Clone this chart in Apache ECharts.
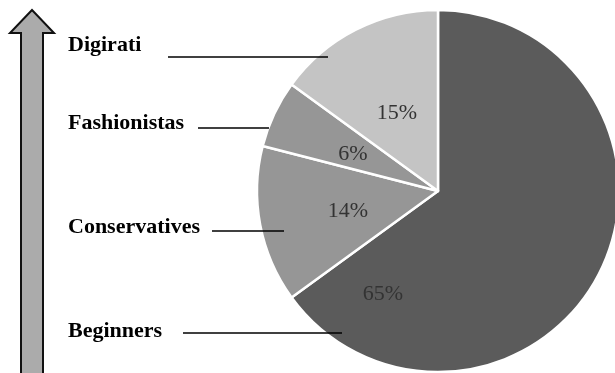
<!DOCTYPE html>
<html>
<head>
<meta charset="utf-8">
<script src="https://cdn.jsdelivr.net/npm/echarts@6/dist/echarts.min.js"></script>
<style>
  html, body { margin: 0; padding: 0; background: #fff; }
  #chart { width: 615px; height: 373px; }
</style>
</head>
<body>
<div id="chart"></div>
<script>
// Segments, clockwise from 12 o'clock
const segments = ['Beginners', 'Conservatives', 'Fashionistas', 'Digirati'];
const shares = [65, 14, 6, 15];
const sliceColors = ['#5b5b5b', '#969696', '#969696', '#c4c4c4'];

// Where each percentage sits (offset from the pie centre)
const pctOffsets = [[-55, 103], [-90, 20], [-85, -37], [-41, -78]];
// Side captions (vertical centre) and their leader lines [x1, x2, y]
const captionY = [331, 227, 123, 45];
const leaderLines = [[183, 342, 333], [212, 284, 231], [198, 269, 128], [168, 328, 57]];

const cx = 438, cy = 191, radius = 181;

const chart = echarts.init(document.getElementById('chart'), null, { renderer: 'canvas' });

const graphics = [
  // Upward arrow on the left
  {
    type: 'polygon',
    shape: { points: [[32, 10], [54, 33], [43, 33], [43, 380], [21, 380], [21, 33], [10, 33]] },
    style: { fill: '#ababab', stroke: '#111', lineWidth: 2 },
    z: 10
  }
];
segments.forEach((name, i) => {
  graphics.push({
    type: 'text',
    x: 68,
    y: captionY[i],
    style: {
      text: name,
      font: 'bold 22px "Liberation Serif", "Times New Roman", serif',
      fill: '#000',
      align: 'left',
      verticalAlign: 'middle'
    },
    z: 10
  });
  const l = leaderLines[i];
  graphics.push({
    type: 'line',
    shape: { x1: l[0], y1: l[2], x2: l[1], y2: l[2] },
    style: { stroke: '#000', lineWidth: 1.3 },
    z: 10
  });
});

chart.setOption({
  animation: false,
  backgroundColor: '#fff',
  series: [{
    type: 'pie',
    center: [cx, cy],
    radius: [0, radius],
    startAngle: 90,
    clockwise: true,
    avoidLabelOverlap: false,
    data: segments.map((n, i) => ({ name: n, value: shares[i], itemStyle: { color: sliceColors[i] } })),
    itemStyle: { borderColor: '#fff', borderWidth: 2.5 },
    label: {
      show: true,
      position: 'inside',
      formatter: p => shares[p.dataIndex] + '%',
      fontFamily: '"Liberation Serif", "Times New Roman", serif',
      fontSize: 22,
      color: '#333'
    },
    labelLine: { show: false },
    labelLayout: p => ({
      x: cx + pctOffsets[p.dataIndex][0],
      y: cy + pctOffsets[p.dataIndex][1],
      align: 'center',
      verticalAlign: 'middle'
    }),
    emphasis: { disabled: true }
  }],
  graphic: graphics
});
</script>
</body>
</html>
